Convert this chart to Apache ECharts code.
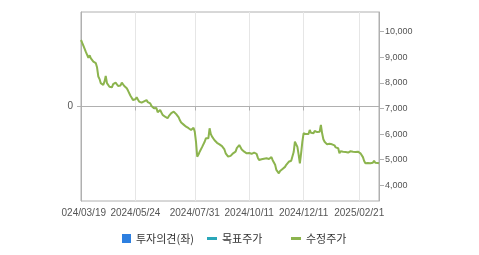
<!DOCTYPE html>
<html><head><meta charset="utf-8">
<script src="https://cdn.jsdelivr.net/npm/echarts@6/dist/echarts.min.js"></script>
<style>html,body{margin:0;padding:0;background:#fff}#c{width:479px;height:255px}</style>
</head><body><div id="c"></div>
<script>
// Adjusted price (수정주가), one value per trading day from 2024/03/19
const prices = [
9676,9560,9450,9400,9200,9250,8980,9080,8960,9020,
8830,8880,8770,8600,8250,8150,7990,8030,7920,8050,
8270,7990,7950,7850,7880,7830,7950,7900,8010,7950,
7880,7950,7900,8010,7960,7880,7900,7790,7700,7640,
7500,7420,7330,7400,7360,7440,7350,7270,7330,7230,
7200,7280,7230,7330,7250,7180,7200,7100,7130,7010,
6980,7020,6850,6920,6940,6870,6750,6790,6680,6700,
6620,6700,6750,6820,6780,6875,6800,6780,6720,6650,
6540,6450,6480,6370,6400,6290,6320,6230,6250,6160,
6200,6250,6094,5700,5117,5200,5313,5280,5500,5575,
5700,5836,5780,5836,6227,6000,5900,5836,5760,5700,
5660,5700,5600,5620,5530,5560,5400,5250,5184,5120,
5094,5150,5130,5250,5220,5313,5450,5400,5575,5500,
5400,5350,5313,5330,5250,5300,5260,5300,5230,5260,
5274,5200,5230,5080,4989,5050,5020,5080,5040,5080,
5055,5100,5030,5080,5100,4980,4922,4800,4600,4650,
4469,4560,4520,4640,4600,4720,4800,4760,4920,4880,
4960,4922,5300,5703,5641,5500,5200,4860,5250,5700,
6031,6094,6000,6060,6004,6160,6050,6120,6031,6120,
6160,6080,6130,6094,6356,6031,5800,5700,5641,5600,
5575,5620,5560,5600,5540,5560,5480,5500,5446,5250,
5330,5290,5313,5260,5300,5230,5280,5250,5330,5290,
5313,5350,5300,5330,5313,5290,5250,5184,5100,4950,
4860,4820,4870,4840,4860,4900,4880,4960,4880,4860,
4870,4860
];
const opinion = [];   // 투자의견(좌): no data
const target = [];    // 목표주가: no data
const dateTickIdx = [0, 44, 92, 136, 180, 225];
const dateTickText = ['2024/03/19','2024/05/24','2024/07/31','2024/10/11','2024/12/11','2025/02/21'];
const priceTicks = [4000,5000,6000,7000,8000,9000,10000];
const leftTicks = [0];
const seriesNames = ['투자의견(좌)','목표주가','수정주가'];

const priceData = prices.map((v,i)=>[i,v]);
const labelFor = {};
dateTickIdx.forEach((k,i)=>labelFor[k]=dateTickText[i]);
const axisGray = '#b0b0b0';
const txt = '#555';
const fontFam = 'Liberation Sans, Arial, sans-serif';
const legendFont = {fontSize:11,color:'#333',fontFamily:'Noto Sans CJK KR, sans-serif'};

const chart = echarts.init(document.getElementById('c'), null, {renderer:'canvas'});
chart.setOption({
  animation:false,
  grid:{left:81,right:100,top:12,bottom:54,show:true,borderColor:axisGray,borderWidth:1,backgroundColor:'transparent'},
  xAxis:{type:'value',min:0,max:prices.length-1,
    axisLine:{show:true,lineStyle:{color:axisGray}},
    axisTick:{show:true,length:4,lineStyle:{color:axisGray},customValues:dateTickIdx},
    splitLine:{show:true,lineStyle:{color:'#e6e6e6'}},
    axisLabel:{customValues:dateTickIdx,formatter:v=>labelFor[v]||'',color:txt,fontSize:10,fontFamily:fontFam,margin:7,showMinLabel:true,showMaxLabel:true}
  },
  yAxis:[
    {type:'value',position:'left',min:-1,max:1,
      axisLine:{show:true,lineStyle:{color:axisGray}},
      axisTick:{show:true,length:4,lineStyle:{color:axisGray},customValues:leftTicks},
      splitLine:{show:true,lineStyle:{color:'#e6e6e6'}},
      axisLabel:{customValues:leftTicks,color:txt,fontSize:10,fontFamily:fontFam,margin:8}
    },
    {type:'value',position:'right',min:3387,max:10770,
      axisLine:{show:true,lineStyle:{color:axisGray}},
      axisTick:{show:true,length:5,lineStyle:{color:axisGray},customValues:priceTicks},
      splitLine:{show:false},
      axisLabel:{customValues:priceTicks,color:txt,fontSize:9,fontFamily:fontFam,margin:6,
        formatter:v=>v.toLocaleString('en-US')}
    }
  ],
  legend:[
    {left:117,top:228,itemWidth:9,itemHeight:9,textStyle:legendFont,data:[{name:seriesNames[0],icon:'rect'}]},
    {left:202,top:228,itemWidth:10,itemHeight:3,textStyle:legendFont,data:[{name:seriesNames[1],icon:'rect'}]},
    {left:286,top:228,itemWidth:10,itemHeight:3,textStyle:legendFont,data:[{name:seriesNames[2],icon:'rect'}]}
  ],
  series:[
    {name:seriesNames[0],type:'bar',yAxisIndex:0,data:opinion,itemStyle:{color:'#2d7fe0'}},
    {name:seriesNames[1],type:'line',yAxisIndex:1,data:target,itemStyle:{color:'#2aa7b9'},lineStyle:{color:'#2aa7b9'}},
    {name:seriesNames[2],type:'line',yAxisIndex:1,data:priceData,showSymbol:false,symbol:'none',
      itemStyle:{color:'#8cb44e'},lineStyle:{color:'#8cb44e',width:2}}
  ],
  graphic:[{type:'rect',left:0,top:203,shape:{width:61,height:20},style:{fill:'#fff'},z:100}]
});
</script></body></html>
